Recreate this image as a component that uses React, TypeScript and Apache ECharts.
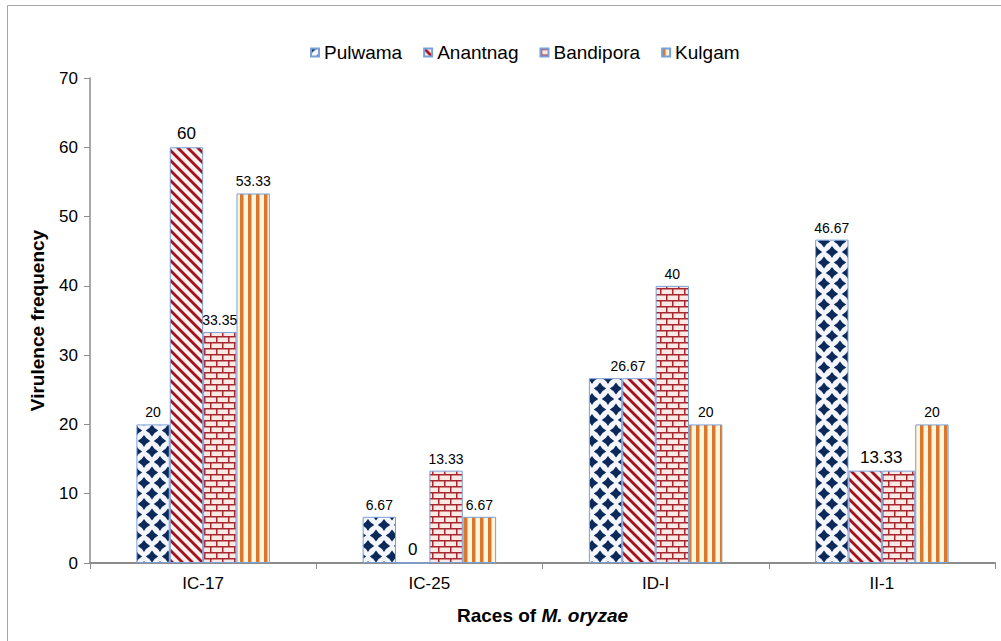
import React, { useEffect, useRef } from "react";
import * as echarts from "echarts";

const categories = ["IC-17", "IC-25", "ID-I", "II-1"];
const seriesNames = ["Pulwama", "Anantnag", "Bandipora", "Kulgam"];
const pulwama = [20, 6.67, 26.67, 46.67];
const anantnag = [60, 0, 26.67, 13.33];
const bandipora = [33.35, 13.33, 40, 13.33];
const kulgam = [53.33, 6.67, 20, 20];
const yTicks = { min: 0, max: 70, interval: 10 };

const FONT = 'Arial, "Liberation Sans", sans-serif';

type LabelOpt = { show?: boolean; big?: boolean; dx?: number };
const labelCfg: Record<string, LabelOpt[]> = {
  Pulwama: [{}, {}, { show: false }, {}],
  Anantnag: [{ big: true }, { big: true }, { dx: -11 }, { big: true, dx: 16 }],
  Bandipora: [{}, {}, {}, { show: false }],
  Kulgam: [{}, {}, {}, {}],
};

function makeCanvas(w: number, h: number) {
  const c = document.createElement("canvas");
  c.width = w;
  c.height = h;
  return c;
}

function patternPulwama() {
  const w = 16, h = 21;
  const c = makeCanvas(w, h);
  const ctx = c.getContext("2d")!;
  ctx.fillStyle = "#f5f6fb";
  ctx.fillRect(0, 0, w, h);
  ctx.fillStyle = "#0b2a5b";
  const pts = [
    [0, 0], [16, 0], [8, 10.5], [0, 21], [16, 21],
  ];
  const rx = 6.2, ry = 6;
  for (const [x, y] of pts) {
    ctx.beginPath();
    ctx.moveTo(x, y - ry);
    ctx.quadraticCurveTo(x + rx * 0.35, y - ry * 0.35, x + rx, y);
    ctx.quadraticCurveTo(x + rx * 0.35, y + ry * 0.35, x, y + ry);
    ctx.quadraticCurveTo(x - rx * 0.35, y + ry * 0.35, x - rx, y);
    ctx.quadraticCurveTo(x - rx * 0.35, y - ry * 0.35, x, y - ry);
    ctx.closePath();
    ctx.fill();
  }
  return { image: c, repeat: "repeat", imageWidth: w, imageHeight: h };
}

function patternAnantnag() {
  const s = 10;
  const c = makeCanvas(s, s);
  const ctx = c.getContext("2d")!;
  ctx.fillStyle = "#fff1ec";
  ctx.fillRect(0, 0, s, s);
  ctx.strokeStyle = "#a3101f";
  ctx.lineWidth = 2.8;
  for (const k of [-1, 0, 1]) {
    ctx.beginPath();
    ctx.moveTo(k * s - s, -s);
    ctx.lineTo(k * s + 2 * s, 2 * s);
    ctx.stroke();
  }
  return { image: c, repeat: "repeat", imageWidth: s, imageHeight: s };
}

function patternBandipora() {
  const w = 12, h = 12;
  const c = makeCanvas(w, h);
  const ctx = c.getContext("2d")!;
  ctx.fillStyle = "#fde9e4";
  ctx.fillRect(0, 0, w, h);
  ctx.fillStyle = "#a8262e";
  ctx.fillRect(0, 0, w, 1.5);
  ctx.fillRect(0, 6, w, 1.5);
  ctx.fillRect(0, 0, 1.5, 6);
  ctx.fillRect(6, 6, 1.5, 6);
  return { image: c, repeat: "repeat", imageWidth: w, imageHeight: h };
}

function patternKulgam() {
  const w = 8, h = 8;
  const c = makeCanvas(w, h);
  const ctx = c.getContext("2d")!;
  ctx.fillStyle = "#fff4dc";
  ctx.fillRect(0, 0, w, h);
  ctx.fillStyle = "#d9782d";
  ctx.fillRect(0, 0, 3.5, h);
  return { image: c, repeat: "repeat", imageWidth: w, imageHeight: h };
}

export default function App() {
  const ref = useRef<HTMLDivElement>(null);
  useEffect(() => {
    if (!ref.current) return;
    const chart = echarts.init(ref.current, undefined, { renderer: "svg" });
    const patterns: Record<string, any> = {
      Pulwama: patternPulwama(),
      Anantnag: patternAnantnag(),
      Bandipora: patternBandipora(),
      Kulgam: patternKulgam(),
    };
    const values: Record<string, number[]> = {
      Pulwama: pulwama,
      Anantnag: anantnag,
      Bandipora: bandipora,
      Kulgam: kulgam,
    };
    const series = seriesNames.map((name) => ({
      name,
      type: "bar",
      barGap: "0%",
      barCategoryGap: "41%",
      itemStyle: {
        color: patterns[name],
        borderColor: "#7aa0d8",
        borderWidth: 1,
      },
      label: {
        show: true,
        position: "top",
        distance: 5,
        color: "#000",
        fontFamily: FONT,
        fontSize: 14,
        formatter: (p: any) => String(p.value),
      },
      data: values[name].map((v, i) => {
        const cfg = labelCfg[name][i] || {};
        return {
          value: v,
          label: {
            show: cfg.show !== false,
            fontSize: cfg.big ? 17 : 14,
            offset: [cfg.dx || 0, 0],
          },
        };
      }),
    }));
    chart.setOption({
      animation: false,
      backgroundColor: "#fff",
      textStyle: { fontFamily: FONT },
      graphic: [
        {
          type: "rect",
          silent: true,
          z: -10,
          shape: { x: 7.5, y: 5.5, width: 1200, height: 800 },
          style: { fill: "none", stroke: "#a6a6a6", lineWidth: 1 },
        },
      ],
      legend: {
        top: 38,
        left: 305,
        itemWidth: 8,
        itemHeight: 8,
        itemGap: 21,
        icon: "rect",
        textStyle: { fontSize: 19, color: "#000", fontFamily: FONT },
        data: seriesNames,
      },
      grid: { left: 90, right: 6, top: 78, bottom: 78, containLabel: false },
      xAxis: {
        type: "category",
        data: categories,
        name: "{b|Races of }{i|M. oryzae}",
        nameLocation: "middle",
        nameGap: 43,
        nameTextStyle: {
          rich: {
            b: { fontSize: 19, fontWeight: "bold", color: "#000", fontFamily: FONT },
            i: { fontSize: 19, fontWeight: "bold", fontStyle: "italic", color: "#000", fontFamily: FONT },
          },
        },
        axisLine: { show: true, lineStyle: { color: "#8c8c8c", width: 2 } },
        axisTick: { show: true, alignWithLabel: false, length: 6, lineStyle: { color: "#8c8c8c" } },
        axisLabel: { color: "#000", fontSize: 17, margin: 12, fontFamily: FONT },
        splitLine: { show: false },
      },
      yAxis: {
        type: "value",
        min: yTicks.min,
        max: yTicks.max,
        interval: yTicks.interval,
        name: "Virulence frequency",
        nameLocation: "middle",
        nameGap: 43,
        nameTextStyle: { fontSize: 19, fontWeight: "bold", color: "#000", fontFamily: FONT },
        axisLine: { show: true, lineStyle: { color: "#8c8c8c", width: 1.5 } },
        axisTick: { show: true, inside: false, length: 6, lineStyle: { color: "#8c8c8c" } },
        axisLabel: { color: "#000", fontSize: 17, margin: 12, fontFamily: FONT },
        splitLine: { show: false },
      },
      series,
    });
    return () => chart.dispose();
  }, []);
  return (
    <div
      ref={ref}
      style={{ position: "fixed", left: 0, top: 0, width: 1001, height: 641, background: "#fff" }}
    />
  );
}
